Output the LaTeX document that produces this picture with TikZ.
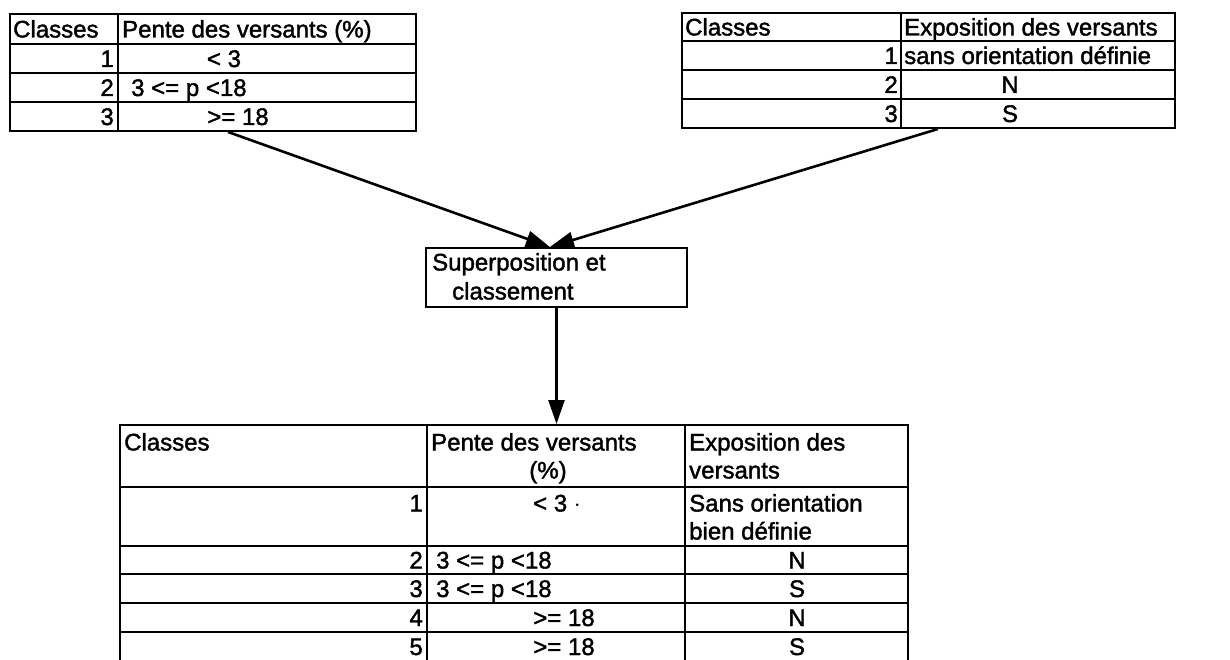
\documentclass[tikz,border=0pt]{standalone}
\usepackage{fontspec}
\setmainfont[FakeBold=1.6]{Liberation Sans}
\usetikzlibrary{arrows.meta,calc}
\begin{document}
\begin{tikzpicture}[x=1pt,y=-1pt,
  hline/.style={line width=2pt},
  vline/.style={line width=1.4pt},
  frame/.style={draw, line width=2pt, inner sep=0pt, rectangle},
  txt/.style={inner sep=0pt, font=\fontsize{24}{29}\selectfont},
  arr/.style={line width=2.6pt, -{Triangle[length=24pt,width=16pt]}}]
\useasboundingbox (0,0) rectangle (1230,660);

% ---------- top-left table ----------
\node[frame, minimum width=406pt, minimum height=117pt] (tabL) at (213,72.5) {};
\draw[vline] (118,14) -- (118,131);
\foreach \yy in {44,73,102} \draw[hline] (10,\yy) -- (416,\yy);
\node[txt, anchor=base west] (l00) at (13,37.5) {Classes};
\node[txt, anchor=base west] (l01) at (122,37.5) {Pente des versants (\%)};
\node[txt, anchor=base east] (l10) at (114,67) {1};
\node[txt, anchor=base] (l11) at (224,67) {< 3};
\node[txt, anchor=base east] (l20) at (114,96) {2};
\node[txt, anchor=base west] (l21) at (131,96) {3 <= p <18};
\node[txt, anchor=base east] (l30) at (114,125) {3};
\node[txt, anchor=base] (l31) at (238,125) {>= 18};

% ---------- top-right table ----------
\node[frame, minimum width=493pt, minimum height=115pt] (tabR) at (928.5,70.5) {};
\draw[vline] (901,13) -- (901,128);
\foreach \yy in {41,70,99} \draw[hline] (682,\yy) -- (1175,\yy);
\node[txt, anchor=base west] (r00) at (685,35.5) {Classes};
\node[txt, anchor=base west] (r01) at (904,35.5) {Exposition des versants};
\node[txt, anchor=base east] (r10) at (898,64) {1};
\node[txt, anchor=base west] (r11) at (904,64) {sans orientation définie};
\node[txt, anchor=base east] (r20) at (898,93) {2};
\node[txt, anchor=base] (r21) at (1010,93) {N};
\node[txt, anchor=base east] (r30) at (898,122) {3};
\node[txt, anchor=base] (r31) at (1010,122) {S};

% ---------- central box ----------
\node[frame, minimum width=261pt, minimum height=59pt] (box) at (556.5,277.5) {};
\node[txt, anchor=base west] (b1) at (432,270.5) {Superposition et};
\node[txt, anchor=base west] (b2) at (452,299.5) {classement};

% ---------- bottom table ----------
\node[frame, minimum width=788pt, minimum height=245pt] (tabB) at (514,547.5) {};
\draw[vline] (427,425) -- (427,670);
\draw[vline] (685,425) -- (685,670);
\foreach \yy in {487,546,574,603,632} \draw[hline] (120,\yy) -- (908,\yy);
\node[txt, anchor=base west] (t00) at (124,450.5) {Classes};
\node[txt, anchor=base west] (t01) at (431,450.5) {Pente des versants};
\node[txt, anchor=base] (t01b) at (548,478.5) {(\%)};
\node[txt, anchor=base west] (t02) at (689,450.5) {Exposition des};
\node[txt, anchor=base west] (t02b) at (689,478.5) {versants};
\node[txt, anchor=base east] (t10) at (423,511.5) {1};
\node[txt, anchor=base] (t11) at (557,511.5) {< 3 $\cdot$};
\node[txt, anchor=base west] (t12) at (689,511.5) {Sans orientation};
\node[txt, anchor=base west] (t12b) at (689,539.5) {bien définie};
\node[txt, anchor=base east] (t20) at (423,568.5) {2};
\node[txt, anchor=base west] (t21) at (436,568.5) {3 <= p <18};
\node[txt, anchor=base] (t22) at (797,568.5) {N};
\node[txt, anchor=base east] (t30) at (423,597) {3};
\node[txt, anchor=base west] (t31) at (436,597) {3 <= p <18};
\node[txt, anchor=base] (t32) at (797,597) {S};
\node[txt, anchor=base east] (t40) at (423,626) {4};
\node[txt, anchor=base] (t41) at (564,626) {>= 18};
\node[txt, anchor=base] (t42) at (797,626) {N};
\node[txt, anchor=base east] (t50) at (423,655) {5};
\node[txt, anchor=base] (t51) at (564,655) {>= 18};
\node[txt, anchor=base] (t52) at (797,655) {S};

% ---------- connectors ----------
\coordinate (lstart) at ($(tabL.south west)!0.537!(tabL.south east)$);
\coordinate (rstart) at ($(tabR.south west)!0.519!(tabR.south east)$);
\coordinate (tip) at ($(box.north west)!0.475!(box.north east)$);
\draw[arr] (lstart) -- (tip);
\draw[arr] (rstart) -- (tip);
\draw[arr] (box.south) -- (box.south |- tabB.north);
\end{tikzpicture}
\end{document}
